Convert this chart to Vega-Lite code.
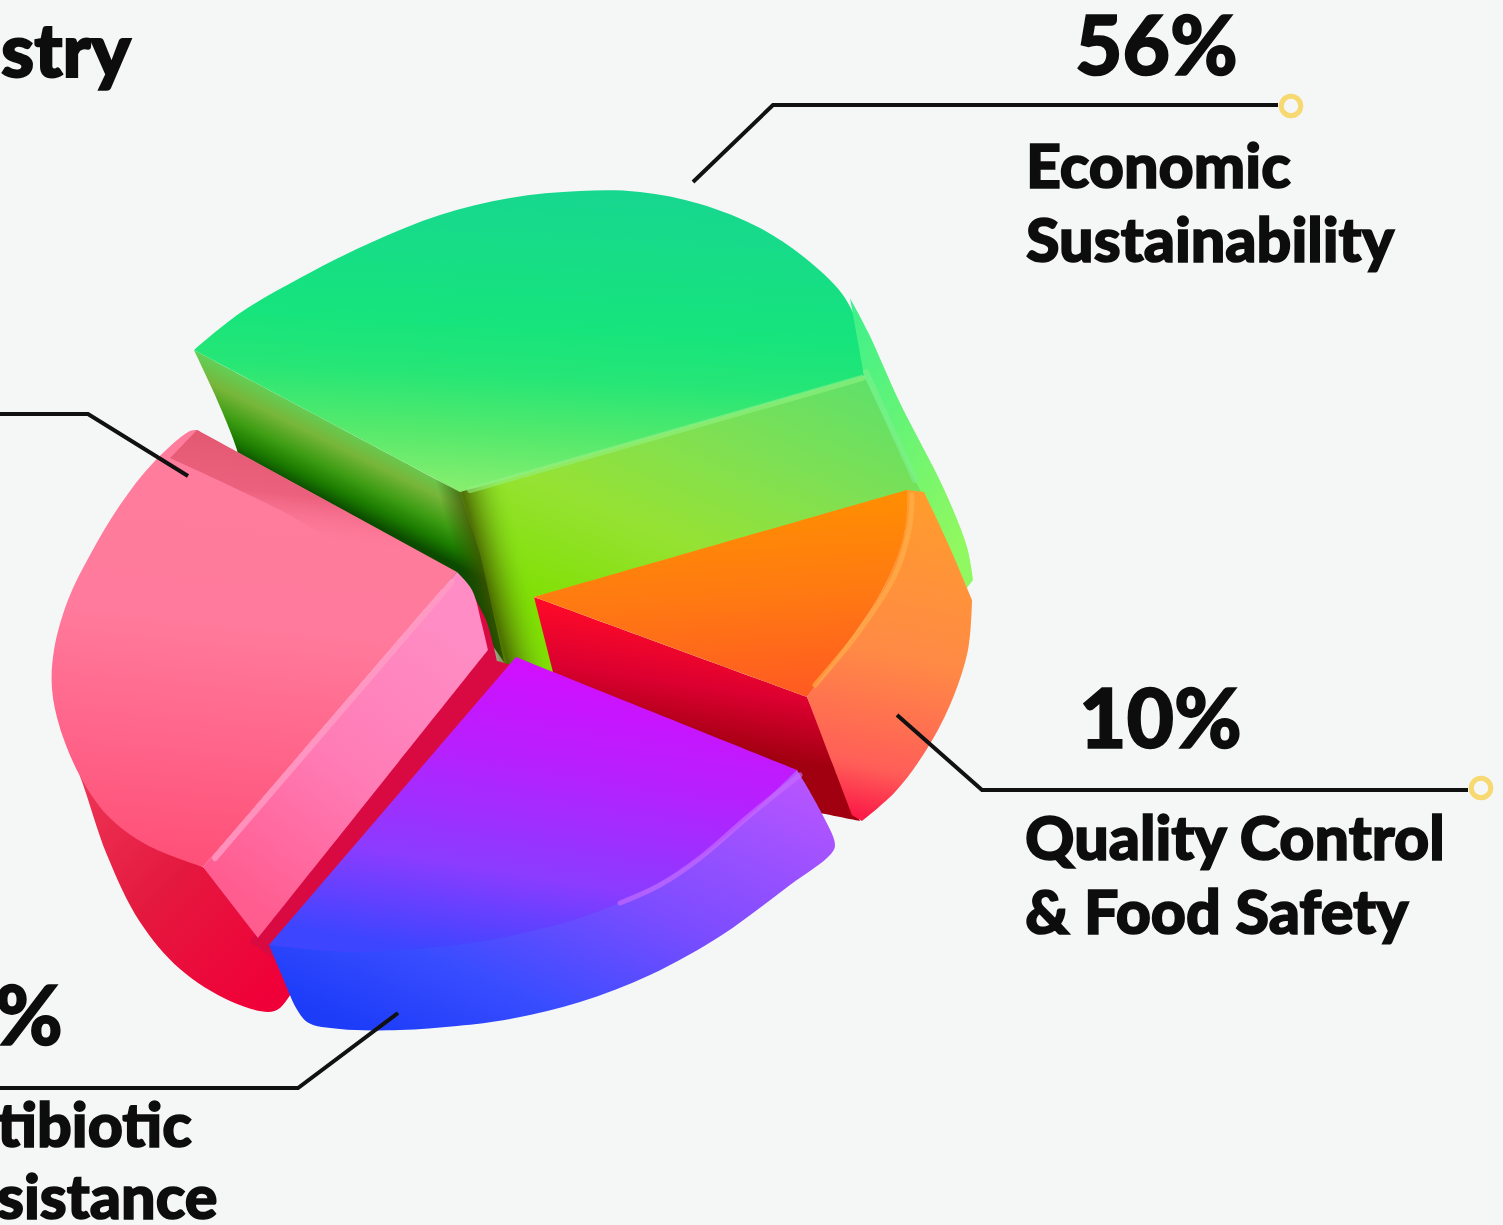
{
"$schema":"https://vega.github.io/schema/vega-lite/v6.json",
"width":1503,"height":1225,"padding":0,"autosize":{"type":"none"},
"background":"#f5f6f6",
"config":{"view":{"stroke":null}},
"datasets":{
"outlines":[
{"part":"greenTop","x":194,"y":350},{"part":"greenTop","x":194,"y":350},{"part":"greenTop","x":240,"y":313},{"part":"greenTop","x":300,"y":278},{"part":"greenTop","x":370,"y":243},{"part":"greenTop","x":440,"y":215},{"part":"greenTop","x":510,"y":198},{"part":"greenTop","x":580,"y":191},{"part":"greenTop","x":640,"y":192},{"part":"greenTop","x":700,"y":204},{"part":"greenTop","x":760,"y":228},{"part":"greenTop","x":810,"y":262},{"part":"greenTop","x":845,"y":298},{"part":"greenTop","x":862,"y":340},{"part":"greenTop","x":864,"y":376},{"part":"greenTop","x":864,"y":376},{"part":"greenTop","x":460,"y":492},{"part":"greenTop","x":460,"y":492},
{"part":"greenLeft","x":194,"y":350},{"part":"greenLeft","x":194,"y":350},{"part":"greenLeft","x":460,"y":492},{"part":"greenLeft","x":460,"y":492},{"part":"greenLeft","x":480,"y":553},{"part":"greenLeft","x":500,"y":620},{"part":"greenLeft","x":510,"y":670},{"part":"greenLeft","x":510,"y":670},{"part":"greenLeft","x":460,"y":600},{"part":"greenLeft","x":460,"y":600},{"part":"greenLeft","x":240,"y":470},{"part":"greenLeft","x":240,"y":470},{"part":"greenLeft","x":237,"y":450},{"part":"greenLeft","x":215,"y":395},
{"part":"greenFront","x":460,"y":492},{"part":"greenFront","x":460,"y":492},{"part":"greenFront","x":864,"y":376},{"part":"greenFront","x":864,"y":376},{"part":"greenFront","x":930,"y":500},{"part":"greenFront","x":930,"y":500},{"part":"greenFront","x":534,"y":597},{"part":"greenFront","x":534,"y":597},{"part":"greenFront","x":566,"y":680},{"part":"greenFront","x":566,"y":680},{"part":"greenFront","x":505,"y":665},{"part":"greenFront","x":505,"y":665},{"part":"greenFront","x":480,"y":553},
{"part":"greenCrease","x":435,"y":480},{"part":"greenCrease","x":435,"y":480},{"part":"greenCrease","x":505,"y":480},{"part":"greenCrease","x":505,"y":480},{"part":"greenCrease","x":558,"y":680},{"part":"greenCrease","x":558,"y":680},{"part":"greenCrease","x":488,"y":680},{"part":"greenCrease","x":488,"y":680},
{"part":"greenRim","x":850,"y":298},{"part":"greenRim","x":850,"y":298},{"part":"greenRim","x":868,"y":332},{"part":"greenRim","x":900,"y":403},{"part":"greenRim","x":943,"y":487},{"part":"greenRim","x":967,"y":547},{"part":"greenRim","x":973,"y":580},{"part":"greenRim","x":973,"y":580},{"part":"greenRim","x":967,"y":588},{"part":"greenRim","x":967,"y":588},{"part":"greenRim","x":945,"y":540},{"part":"greenRim","x":915,"y":480},{"part":"greenRim","x":864,"y":376},{"part":"greenRim","x":864,"y":376},
{"part":"redFace","x":534,"y":597},{"part":"redFace","x":534,"y":597},{"part":"redFace","x":807,"y":697},{"part":"redFace","x":807,"y":697},{"part":"redFace","x":860,"y":821},{"part":"redFace","x":860,"y":821},{"part":"redFace","x":815,"y":812},{"part":"redFace","x":815,"y":812},{"part":"redFace","x":760,"y":780},{"part":"redFace","x":760,"y":780},{"part":"redFace","x":560,"y":700},{"part":"redFace","x":560,"y":700},
{"part":"orangeSide","x":907,"y":490},{"part":"orangeSide","x":907,"y":490},{"part":"orangeSide","x":924,"y":492},{"part":"orangeSide","x":924,"y":492},{"part":"orangeSide","x":950,"y":548},{"part":"orangeSide","x":972,"y":600},{"part":"orangeSide","x":972,"y":600},{"part":"orangeSide","x":968,"y":650},{"part":"orangeSide","x":950,"y":705},{"part":"orangeSide","x":925,"y":752},{"part":"orangeSide","x":895,"y":792},{"part":"orangeSide","x":862,"y":821},{"part":"orangeSide","x":862,"y":821},{"part":"orangeSide","x":852,"y":815},{"part":"orangeSide","x":852,"y":815},{"part":"orangeSide","x":807,"y":697},{"part":"orangeSide","x":807,"y":697},{"part":"orangeSide","x":850,"y":640},{"part":"orangeSide","x":885,"y":585},{"part":"orangeSide","x":905,"y":530},
{"part":"orangeTop","x":534,"y":597},{"part":"orangeTop","x":534,"y":597},{"part":"orangeTop","x":907,"y":490},{"part":"orangeTop","x":907,"y":490},{"part":"orangeTop","x":905,"y":530},{"part":"orangeTop","x":885,"y":585},{"part":"orangeTop","x":850,"y":640},{"part":"orangeTop","x":807,"y":697},{"part":"orangeTop","x":807,"y":697},
{"part":"pinkOuter","x":60,"y":728},{"part":"pinkOuter","x":60,"y":728},{"part":"pinkOuter","x":80,"y":776},{"part":"pinkOuter","x":107,"y":855},{"part":"pinkOuter","x":140,"y":922},{"part":"pinkOuter","x":180,"y":969},{"part":"pinkOuter","x":230,"y":1001},{"part":"pinkOuter","x":268,"y":1012},{"part":"pinkOuter","x":280,"y":1008},{"part":"pinkOuter","x":292,"y":992},{"part":"pinkOuter","x":292,"y":992},{"part":"pinkOuter","x":300,"y":940},{"part":"pinkOuter","x":300,"y":940},{"part":"pinkOuter","x":203,"y":867},{"part":"pinkOuter","x":203,"y":867},{"part":"pinkOuter","x":147,"y":840},{"part":"pinkOuter","x":147,"y":840},
{"part":"pinkTop","x":197,"y":430},{"part":"pinkTop","x":190,"y":431},{"part":"pinkTop","x":153,"y":463},{"part":"pinkTop","x":120,"y":505},{"part":"pinkTop","x":90,"y":555},{"part":"pinkTop","x":68,"y":600},{"part":"pinkTop","x":54,"y":650},{"part":"pinkTop","x":52,"y":689},{"part":"pinkTop","x":60,"y":728},{"part":"pinkTop","x":80,"y":776},{"part":"pinkTop","x":107,"y":815},{"part":"pinkTop","x":147,"y":845},{"part":"pinkTop","x":203,"y":867},{"part":"pinkTop","x":203,"y":867},{"part":"pinkTop","x":457,"y":572},{"part":"pinkTop","x":457,"y":572},
{"part":"pinkBand","x":197,"y":430},{"part":"pinkBand","x":197,"y":430},{"part":"pinkBand","x":457,"y":572},{"part":"pinkBand","x":457,"y":572},{"part":"pinkBand","x":425,"y":570},{"part":"pinkBand","x":370,"y":560},{"part":"pinkBand","x":280,"y":510},{"part":"pinkBand","x":170,"y":458},{"part":"pinkBand","x":170,"y":458},
{"part":"pinkEdge","x":470,"y":590},{"part":"pinkEdge","x":470,"y":590},{"part":"pinkEdge","x":486,"y":620},{"part":"pinkEdge","x":497,"y":661},{"part":"pinkEdge","x":497,"y":661},{"part":"pinkEdge","x":530,"y":670},{"part":"pinkEdge","x":530,"y":670},{"part":"pinkEdge","x":290,"y":970},{"part":"pinkEdge","x":290,"y":970},{"part":"pinkEdge","x":250,"y":942},{"part":"pinkEdge","x":250,"y":942},
{"part":"pinkFace","x":203,"y":867},{"part":"pinkFace","x":203,"y":867},{"part":"pinkFace","x":457,"y":572},{"part":"pinkFace","x":457,"y":572},{"part":"pinkFace","x":472,"y":590},{"part":"pinkFace","x":482,"y":625},{"part":"pinkFace","x":488,"y":650},{"part":"pinkFace","x":488,"y":650},{"part":"pinkFace","x":258,"y":938},{"part":"pinkFace","x":258,"y":938},
{"part":"purpleSide","x":269,"y":945},{"part":"purpleSide","x":269,"y":945},{"part":"purpleSide","x":400,"y":945},{"part":"purpleSide","x":400,"y":945},{"part":"purpleSide","x":797,"y":770},{"part":"purpleSide","x":797,"y":770},{"part":"purpleSide","x":820,"y":810},{"part":"purpleSide","x":835,"y":845},{"part":"purpleSide","x":830,"y":855},{"part":"purpleSide","x":790,"y":885},{"part":"purpleSide","x":722,"y":935},{"part":"purpleSide","x":650,"y":975},{"part":"purpleSide","x":580,"y":1002},{"part":"purpleSide","x":510,"y":1019},{"part":"purpleSide","x":457,"y":1026},{"part":"purpleSide","x":400,"y":1030},{"part":"purpleSide","x":340,"y":1029},{"part":"purpleSide","x":307,"y":1022},{"part":"purpleSide","x":292,"y":1000},
{"part":"purpleTop","x":516,"y":657},{"part":"purpleTop","x":516,"y":657},{"part":"purpleTop","x":797,"y":770},{"part":"purpleTop","x":797,"y":770},{"part":"purpleTop","x":750,"y":815},{"part":"purpleTop","x":700,"y":857},{"part":"purpleTop","x":640,"y":893},{"part":"purpleTop","x":580,"y":918},{"part":"purpleTop","x":500,"y":938},{"part":"purpleTop","x":439,"y":947},{"part":"purpleTop","x":350,"y":952},{"part":"purpleTop","x":269,"y":945},{"part":"purpleTop","x":269,"y":945},
{"part":"ridgeGreen","x":470,"y":490},{"part":"ridgeGreen","x":862,"y":378},
{"part":"ridgeGreenRim","x":866,"y":372},{"part":"ridgeGreenRim","x":915,"y":480},
{"part":"ridgePink","x":215,"y":858},{"part":"ridgePink","x":452,"y":582},
{"part":"ridgeOrange","x":815,"y":685},{"part":"ridgeOrange","x":860,"y":630},{"part":"ridgeOrange","x":895,"y":575},{"part":"ridgeOrange","x":910,"y":525},{"part":"ridgeOrange","x":912,"y":495},
{"part":"ridgePurple","x":620,"y":903},{"part":"ridgePurple","x":660,"y":885},{"part":"ridgePurple","x":700,"y":858},{"part":"ridgePurple","x":750,"y":815},{"part":"ridgePurple","x":800,"y":775}
],
"leaders":[
{"leader":"economic","x":693,"y":182},{"leader":"economic","x":773,"y":105},{"leader":"economic","x":1278,"y":105},
{"leader":"quality","x":897,"y":715},{"leader":"quality","x":982,"y":790},{"leader":"quality","x":1468,"y":790},
{"leader":"antibiotic","x":398,"y":1013},{"leader":"antibiotic","x":298,"y":1088},{"leader":"antibiotic","x":0,"y":1088},
{"leader":"industry","x":188,"y":476},{"leader":"industry","x":88,"y":414},{"leader":"industry","x":0,"y":414}
],
"endpoints":[{"x":1291,"y":106},{"x":1481,"y":788}],
"figures":[
{"text":"56%","x":1075,"y":75},{"text":"10%","x":1079,"y":748},{"text":"%","x":-5,"y":1045}
],
"heading":[{"text":"stry","x":1,"y":77}],
"captions":[
{"text":"Economic","x":1026,"y":188},{"text":"Sustainability","x":1026,"y":262},
{"text":"Quality Control","x":1025,"y":860},{"text":"& Food Safety","x":1025,"y":934},
{"text":"tibiotic","x":-3,"y":1147},{"text":"sistance","x":-3,"y":1219}
]
},
"layer":[
{"data":{"name":"outlines"},
 "encoding":{"x":{"field":"x","type":"quantitative","scale":{"domain":[0,1503],"nice":false,"zero":false},"axis":null},
             "y":{"field":"y","type":"quantitative","scale":{"domain":[0,1225],"reverse":true,"nice":false,"zero":false},"axis":null},
             "order":{"field":"seq"}},
 "transform":[{"window":[{"op":"row_number","as":"seq"}]}],
 "layer":[
 {"transform":[{"filter":"datum.part==='greenLeft'"}],"mark":{"type":"line","interpolate":"catmull-rom","strokeWidth":0,"fill":{"gradient":"linear","x1":0.417,"y1":0.2,"x2":0.31,"y2":0.42,"stops":[{"offset":0,"color":"#5fd25a"},{"offset":0.3,"color":"#78b63a"},{"offset":0.6,"color":"#3c9c12"},{"offset":0.82,"color":"#1a7a00"},{"offset":1,"color":"#0b4a00"}]}}},
 {"transform":[{"filter":"datum.part==='greenFront'"}],"mark":{"type":"line","interpolate":"catmull-rom","strokeWidth":0,"fill":{"gradient":"linear","x1":0.85,"y1":0,"x2":0.3,"y2":0.85,"stops":[{"offset":0,"color":"#5fe06a"},{"offset":0.35,"color":"#80e052"},{"offset":0.65,"color":"#96e234"},{"offset":1,"color":"#7fe000"}]}}},
 {"transform":[{"filter":"datum.part==='greenCrease'"}],"mark":{"type":"line","interpolate":"catmull-rom","strokeWidth":0,"fill":{"gradient":"linear","x1":0.215,"y1":0.5,"x2":0.696,"y2":0.293,"stops":[{"offset":0,"color":"rgba(40,70,0,0)"},{"offset":0.35,"color":"rgba(65,85,0,0.8)"},{"offset":0.55,"color":"rgba(90,130,10,0.6)"},{"offset":1,"color":"rgba(130,224,30,0)"}]}}},
 {"transform":[{"filter":"datum.part==='greenTop'"}],"mark":{"type":"line","interpolate":"catmull-rom","strokeWidth":0,"fill":{"gradient":"linear","x1":0.56,"y1":0,"x2":0.44,"y2":1,"stops":[{"offset":0,"color":"#17d78f"},{"offset":0.45,"color":"#16e47c"},{"offset":0.62,"color":"#26e676"},{"offset":0.8,"color":"#52e96c"},{"offset":1,"color":"#88ee6e"}]}}},
 {"transform":[{"filter":"datum.part==='greenRim'"}],"mark":{"type":"line","interpolate":"catmull-rom","strokeWidth":0,"fill":{"gradient":"linear","x1":0,"y1":0,"x2":0.6,"y2":1,"stops":[{"offset":0,"color":"#3cf08c"},{"offset":1,"color":"#90f860"}]}}},
 {"transform":[{"filter":"datum.part==='redFace'"}],"mark":{"type":"line","interpolate":"catmull-rom","strokeWidth":0,"fill":{"gradient":"linear","x1":0.52,"y1":0.12,"x2":0.4,"y2":0.65,"stops":[{"offset":0,"color":"#ff0a28"},{"offset":0.5,"color":"#dc0030"},{"offset":1,"color":"#a00010"}]}}},
 {"transform":[{"filter":"datum.part==='orangeSide'"}],"mark":{"type":"line","interpolate":"catmull-rom","strokeWidth":0,"fill":{"gradient":"linear","x1":0.6,"y1":0,"x2":0.5,"y2":1,"stops":[{"offset":0,"color":"#ff9c2c"},{"offset":0.5,"color":"#ff8a45"},{"offset":0.85,"color":"#ff5e58"},{"offset":1,"color":"#fb1c48"}]}}},
 {"transform":[{"filter":"datum.part==='orangeTop'"}],"mark":{"type":"line","interpolate":"catmull-rom","strokeWidth":0,"fill":{"gradient":"linear","x1":0.6,"y1":0,"x2":0.7,"y2":1,"stops":[{"offset":0,"color":"#ff9000"},{"offset":0.5,"color":"#ff7a12"},{"offset":1,"color":"#ff5a22"}]}}},
 {"transform":[{"filter":"datum.part==='pinkOuter'"}],"mark":{"type":"line","interpolate":"catmull-rom","strokeWidth":0,"fill":{"gradient":"linear","x1":0.1,"y1":0.1,"x2":0.85,"y2":0.95,"stops":[{"offset":0,"color":"#ee3858"},{"offset":0.5,"color":"#e4193f"},{"offset":1,"color":"#f00038"}]}}},
 {"transform":[{"filter":"datum.part==='pinkTop'"}],"mark":{"type":"line","interpolate":"catmull-rom","strokeWidth":0,"fill":{"gradient":"linear","x1":0.55,"y1":0,"x2":0.45,"y2":1,"stops":[{"offset":0,"color":"#ff7d9c"},{"offset":0.45,"color":"#ff7a9c"},{"offset":1,"color":"#ff5078"}]}}},
 {"transform":[{"filter":"datum.part==='pinkBand'"}],"mark":{"type":"line","interpolate":"catmull-rom","strokeWidth":0,"fill":{"gradient":"linear","x1":0.62,"y1":0.1,"x2":0.45,"y2":0.8,"stops":[{"offset":0,"color":"rgba(226,88,112,1)"},{"offset":0.55,"color":"rgba(232,92,120,0.85)"},{"offset":1,"color":"rgba(255,125,156,0)"}]}}},
 {"transform":[{"filter":"datum.part==='pinkEdge'"}],"mark":{"type":"line","interpolate":"catmull-rom","strokeWidth":0,"fill":"#d90a42"}},
 {"transform":[{"filter":"datum.part==='pinkFace'"}],"mark":{"type":"line","interpolate":"catmull-rom","strokeWidth":0,"fill":{"gradient":"linear","x1":0.75,"y1":0.1,"x2":0.25,"y2":0.95,"stops":[{"offset":0,"color":"#ff8cc4"},{"offset":0.5,"color":"#ff7cb6"},{"offset":1,"color":"#ff5d90"}]}}},
 {"transform":[{"filter":"datum.part==='purpleSide'"}],"mark":{"type":"line","interpolate":"catmull-rom","strokeWidth":0,"fill":{"gradient":"linear","x1":0.95,"y1":0.05,"x2":0.1,"y2":0.95,"stops":[{"offset":0,"color":"#b755ff"},{"offset":0.45,"color":"#7a4cff"},{"offset":0.75,"color":"#3a4dff"},{"offset":1,"color":"#1c3cf8"}]}}},
 {"transform":[{"filter":"datum.part==='purpleTop'"}],"mark":{"type":"line","interpolate":"catmull-rom","strokeWidth":0,"fill":{"gradient":"linear","x1":0.62,"y1":0,"x2":0.32,"y2":1,"stops":[{"offset":0,"color":"#d60cff"},{"offset":0.35,"color":"#b81fff"},{"offset":0.72,"color":"#8a3cff"},{"offset":1,"color":"#3d45ff"}]}}},
 {"transform":[{"filter":"datum.part==='ridgeGreen'"}],"mark":{"type":"line","strokeWidth":6,"strokeCap":"round","stroke":"#90f280","opacity":0.6}},
 {"transform":[{"filter":"datum.part==='ridgeGreenRim'"}],"mark":{"type":"line","strokeWidth":6,"strokeCap":"round","stroke":"#7cf08a","opacity":0.65}},
 {"transform":[{"filter":"datum.part==='ridgePink'"}],"mark":{"type":"line","strokeWidth":6,"strokeCap":"round","stroke":"#ff9cc4","opacity":0.8}},
 {"transform":[{"filter":"datum.part==='ridgeOrange'"}],"mark":{"type":"line","interpolate":"catmull-rom","strokeWidth":5,"strokeCap":"round","stroke":"#ffb04a","opacity":0.65}},
 {"transform":[{"filter":"datum.part==='ridgePurple'"}],"mark":{"type":"line","interpolate":"catmull-rom","strokeWidth":5,"strokeCap":"round","stroke":"#c96cff","opacity":0.65}}
 ]},
{"data":{"name":"leaders"},"mark":{"type":"line","stroke":"#111111","strokeWidth":4,"strokeJoin":"miter"},
 "transform":[{"window":[{"op":"row_number","as":"seq"}]}],
 "encoding":{"x":{"field":"x","type":"quantitative","axis":null},"y":{"field":"y","type":"quantitative","axis":null},"detail":{"field":"leader"},"order":{"field":"seq"}}},
{"data":{"name":"endpoints"},"mark":{"type":"point","filled":false,"stroke":"#f8d45a","strokeWidth":5,"size":380,"opacity":0.85},
 "encoding":{"x":{"field":"x","type":"quantitative","axis":null},"y":{"field":"y","type":"quantitative","axis":null}}},
{"data":{"name":"figures"},"mark":{"type":"text","font":"Lato","fontWeight":900,"fontSize":82,"align":"left","baseline":"alphabetic","color":"#0d0d0d","stroke":"#0d0d0d","strokeWidth":1.5},
 "encoding":{"x":{"field":"x","type":"quantitative","axis":null},"y":{"field":"y","type":"quantitative","axis":null},"text":{"field":"text"}}},
{"data":{"name":"heading"},"mark":{"type":"text","font":"Lato","fontWeight":900,"fontSize":75,"align":"left","baseline":"alphabetic","color":"#0d0d0d","stroke":"#0d0d0d","strokeWidth":2},
 "encoding":{"x":{"field":"x","type":"quantitative","axis":null},"y":{"field":"y","type":"quantitative","axis":null},"text":{"field":"text"}}},
{"data":{"name":"captions"},"mark":{"type":"text","font":"Lato","fontWeight":900,"fontSize":61,"align":"left","baseline":"alphabetic","color":"#0d0d0d","stroke":"#0d0d0d","strokeWidth":1.6},
 "encoding":{"x":{"field":"x","type":"quantitative","axis":null},"y":{"field":"y","type":"quantitative","axis":null},"text":{"field":"text"}}}
]
}
